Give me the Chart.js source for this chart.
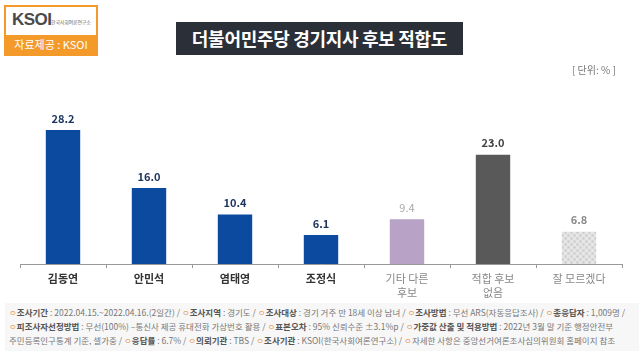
<!DOCTYPE html>
<html><head><meta charset="utf-8">
<script src="https://cdn.jsdelivr.net/npm/chart.js@4"></script>
<style>
html,body{margin:0;padding:0;background:#fff;}
body{width:641px;height:359px;position:relative;overflow:hidden;font-family:"Noto Sans CJK KR","Noto Sans",sans-serif;}
#c{position:absolute;left:0;top:0;}
.logo{position:absolute;left:4px;top:5px;width:90px;height:47px;border:2px solid #f39a2b;background:#fff;overflow:hidden;}
.logo .top{height:28px;position:relative;}
.logo .k{position:absolute;left:6px;top:3px;font:bold 17px "Liberation Sans",sans-serif;color:#4a4a4a;letter-spacing:-0.5px;}
.logo .sm{position:absolute;left:45px;top:11px;font-size:5px;color:#666;white-space:nowrap;letter-spacing:-0.2px;}
.logo .bot{height:19px;background:#f39a2b;color:#fff;font-size:11px;line-height:19px;text-align:center;}
.title{position:absolute;left:176px;top:22px;width:287px;height:33px;background:#2b3038;color:#fff;font-size:18px;font-weight:bold;line-height:33px;text-align:center;letter-spacing:-0.3px;}
.unit{position:absolute;left:572px;top:62px;font-size:10px;color:#777;}
.foot{position:absolute;left:5px;top:303px;width:630px;height:46px;background:#f7f7f7;font-size:8.5px;color:#777;line-height:14px;padding:2px 0 0 4px;white-space:nowrap;letter-spacing:0;}
.foot b{color:#555;}
.foot .o{color:#e8a060;}
</style></head>
<body>
<canvas id="c" width="641" height="359"></canvas>
<div class="logo"><div class="top"><span class="k">KSOI</span><span class="sm">한국사회여론연구소</span></div><div class="bot">자료제공 : KSOI</div></div>
<div class="title">더불어민주당 경기지사 후보 적합도</div>
<div class="unit">[ 단위: % ]</div>
<div class="foot">
<div><span class="o">ㅇ</span><b>조사기간</b> : 2022.04.15.~2022.04.16.(2일간) / <span class="o">ㅇ</span><b>조사지역</b> : 경기도 / <span class="o">ㅇ</span><b>조사대상</b> : 경기 거주 만 18세 이상 남녀 / <span class="o">ㅇ</span><b>조사방법</b> : 무선 ARS(자동응답조사) / <span class="o">ㅇ</span><b>총응답자</b> : 1,009명 /</div>
<div><span class="o">ㅇ</span><b>피조사자선정방법</b> : 무선(100%) –통신사 제공 휴대전화 가상번호 활용 / <span class="o">ㅇ</span><b>표본오차</b> : 95% 신뢰수준 ±3.1%p / <span class="o">ㅇ</span><b>가중값 산출 및 적용방법</b> : 2022년 3월 말 기준 행정안전부</div>
<div>주민등록인구통계 기준, 셀가중 / <span class="o">ㅇ</span><b>응답률</b> : 6.7% / <span class="o">ㅇ</span><b>의뢰기관</b> : TBS / <span class="o">ㅇ</span><b>조사기관</b> : KSOI(한국사회여론연구소) / <span class="o">ㅇ</span>자세한 사항은 중앙선거여론조사심의위원회 홈페이지 참조</div>
</div>
<script>
const categories = [["김동연"],["안민석"],["염태영"],["조정식"],["기타 다른","후보"],["적합 후보","없음"],["잘 모르겠다"]];
const values = [28.2, 16.0, 10.4, 6.1, 9.4, 23.0, 6.8];
const barColors = ["#0b4a9e","#0b4a9e","#0b4a9e","#0b4a9e","#b8a2c6","#595959","pattern"];
const valueLabelColors = ["#1f3560","#1f3560","#1f3560","#1f3560","#a8a8a8","#444444","#8a8a8a"];
const tickColors = ["#333","#333","#333","#333","#888","#888","#888"];

function makePattern(){
  const p=document.createElement('canvas');p.width=6;p.height=6;
  const x=p.getContext('2d');
  x.fillStyle='#d8d8d8';x.fillRect(0,0,6,6);
  x.fillStyle='#e6e6e6';x.fillRect(0,0,3,3);x.fillRect(3,3,3,3);
  x.fillStyle='#c8c8c8';x.fillRect(1,4,1,1);x.fillRect(4,1,1,1);
  return document.getElementById('c').getContext('2d').createPattern(p,'repeat');
}
const pat=makePattern();

const valueLabels={id:'valueLabels',afterDatasetsDraw(chart){
  const ctx=chart.ctx;const meta=chart.getDatasetMeta(0);
  ctx.save();ctx.textAlign='center';ctx.textBaseline='bottom';
  meta.data.forEach((b,i)=>{
    ctx.font=(i===4?'':'bold ')+'11px "Noto Sans CJK KR", sans-serif';
    ctx.fillStyle=valueLabelColors[i];
    ctx.fillText(values[i].toFixed(1),b.x,b.y-6);
  });
  ctx.restore();
}};

new Chart(document.getElementById('c'),{
  type:'bar',
  data:{labels:categories,datasets:[{data:values,backgroundColor:barColors.map(c=>c==='pattern'?pat:c),categoryPercentage:1,barPercentage:0.4}]},
  options:{
    responsive:false,animation:false,
    layout:{padding:{left:20,right:19,top:121.5,bottom:0}},
    plugins:{legend:{display:false},tooltip:{enabled:false}},
    scales:{
      y:{display:false,min:0,max:30},
      x:{
        grid:{offset:true,drawOnChartArea:false,tickLength:4,color:'#999'},
        border:{color:'#999',width:1},
        ticks:{padding:4,color:(c)=>tickColors[c.index],font:(c)=>({family:'"Noto Sans CJK KR", sans-serif',size:11,weight:c.index<4?'bold':'normal',lineHeight:1.25})},
        afterFit(s){s.height=95;}
      }
    }
  },
  plugins:[valueLabels]
});
</script>
</body></html>
